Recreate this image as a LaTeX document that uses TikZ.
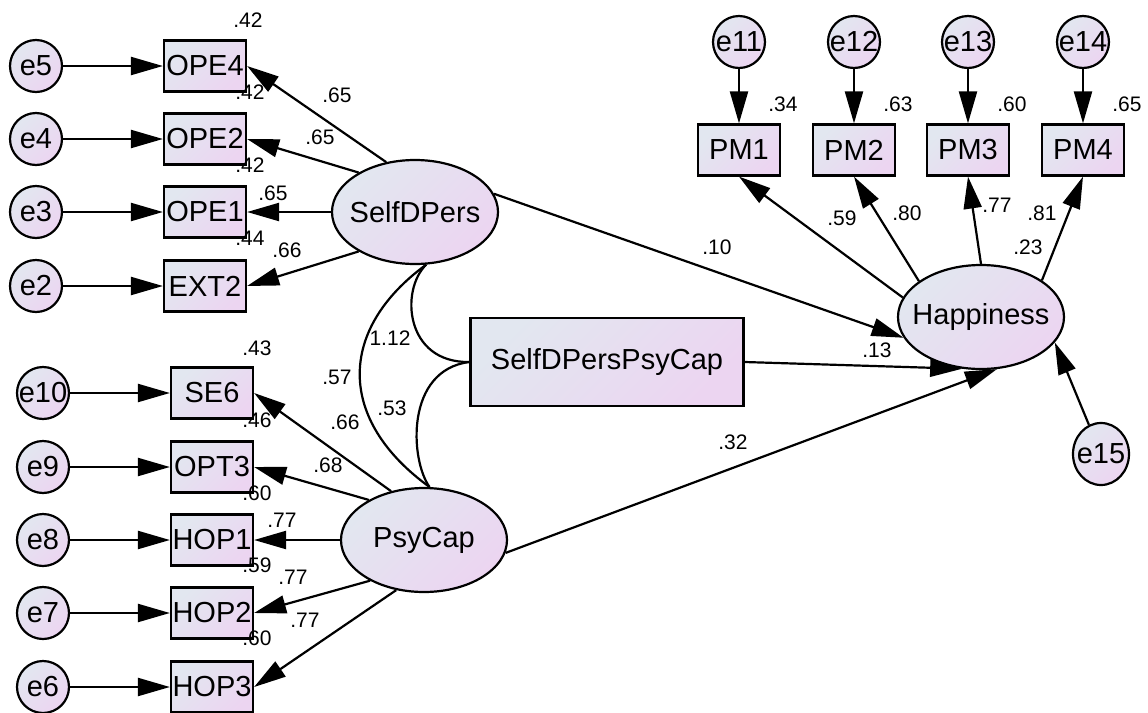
\documentclass[tikz,border=0pt]{standalone}
\usepackage{fontspec}
\setmainfont{Liberation Sans}
\usetikzlibrary{arrows.meta,shapes.geometric}
\definecolor{amosL}{RGB}{226,231,240}
\definecolor{amosR}{RGB}{236,213,241}

\begin{document}
\begin{tikzpicture}[
    x=0.5pt, y=-0.5pt,
    line width=1.1pt,
    >={Triangle[length=16pt, width=9pt]},
    amosfill/.style={left color=amosL, right color=amosR, shading angle=45},
    nowide/.style={execute at begin node={\hbox to 0pt\bgroup\hss}, execute at end node={\hss\egroup}},
    obs/.style={draw, amosfill, minimum width=41pt, minimum height=25.5pt, inner sep=0pt, font=\fontsize{14.5}{16}\selectfont},
    lat/.style={ellipse, draw, amosfill, nowide, minimum width=83pt, minimum height=52pt, inner sep=0pt, font=\fontsize{14.5}{16}\selectfont},
    err/.style={circle, draw, amosfill, nowide, minimum size=26pt, inner sep=0pt, font=\fontsize{14.5}{16}\selectfont},
    coef/.style={inner sep=0pt, font=\fontsize{10.5}{12}\selectfont},
]
\path[fill=white, use as bounding box] (0,0) rectangle (1148,713);

% latent variables and the interaction term
\node[lat] (SD) at (415,212) {SelfDPers};
\node[lat] (PC) at (424,540) {PsyCap};
\node[lat] (HAP) at (981,317) {Happiness};
\node[obs, minimum width=136.5pt, minimum height=44pt] (SDPC) at (607,362) {SelfDPersPsyCap};

% SelfDPers indicators
\foreach \b/\e/\y in {OPE4/e5/66, OPE2/e4/139, OPE1/e3/212, EXT2/e2/286} {
    \node[obs] (\b) at (205,\y) {\b};
    \node[err] (\e) at (36,\y) {\e};
    \draw[->] (\e) -- (\b);
}
% PsyCap indicators
\foreach \b/\e/\y in {SE6/e10/393, OPT3/e9/467, HOP1/e8/540, HOP2/e7/613, HOP3/e6/687} {
    \node[obs] (\b) at (212,\y) {\b};
    \node[err] (\e) at (43,\y) {\e};
    \draw[->] (\e) -- (\b);
}
% Happiness indicators
\foreach \b/\e/\x in {PM1/e11/739, PM2/e12/854, PM3/e13/968, PM4/e14/1083} {
    \node[obs] (\b) at (\x,150) {\b};
    \node[err] (\e) at (\x,42) {\e};
    \draw[->] (\e) -- (\b);
}
\node[err, ellipse, minimum width=28pt, minimum height=31pt] (e15) at (1101,454) {e15};

% loadings
\foreach \a/\b in {120/OPE4, 145/OPE2, 180/OPE1, 215/EXT2}
    \draw[->] (SD.\a) -- (\b.east);
\foreach \a/\b in {124/SE6, 144/OPT3, 180/HOP1, 217/HOP2, 241/HOP3}
    \draw[->] (PC.\a) -- (\b.east);
\foreach \a/\b in {166/PM1, 150/PM2, 90/PM3, 31/PM4}
    \draw[->] (HAP.\a) -- (\b.south);

% structural paths
\draw[->] (SD.13) -- (HAP.195);
\draw[->] (SDPC.east) -- (HAP.250);
\draw[->] (PC.351) -- (HAP.287);
\draw[->] (e15) -- (HAP.341);

% covariances
\draw (SD.282) .. controls (337,330) and (337,420) .. (PC.84);
\draw (SD.282) .. controls (400,290) and (405,363) .. (SDPC.west);
\draw (SDPC.west) .. controls (405,370) and (410,460) .. (PC.84);

% squared multiple correlations
\foreach \x/\y/\v [count=\k] in {248/20/.42, 250/92/.42, 250/165/.42, 250/238/.44,
    257/348/.43, 257/420/.46, 257/493/.60, 257/565/.59, 257/638/.60,
    783/104/.34, 898/104/.63, 1012/104/.60, 1127/104/.65, 1028/247/.23}
    \node[coef] (r\k) at (\x,\y) {\v};
% standardized weights
\foreach \x/\y/\v [count=\k] in {337/95/.65, 320/137/.65, 273/193/.65, 287/250/.66,
    345/422/.66, 328/465/.68, 282/520/.77, 293/577/.77, 305/620/.77,
    842/218/.59, 907/213/.80, 997/205/.77, 1042/213/.81,
    717/247/.10, 877/350/.13, 733/442/.32}
    \node[coef] (w\k) at (\x,\y) {\v};
% correlations
\node[coef] (c1) at (390,338) {1.12};
\node[coef] (c2) at (337,377) {.57};
\node[coef] (c3) at (392,408) {.53};
\end{tikzpicture}
\end{document}
